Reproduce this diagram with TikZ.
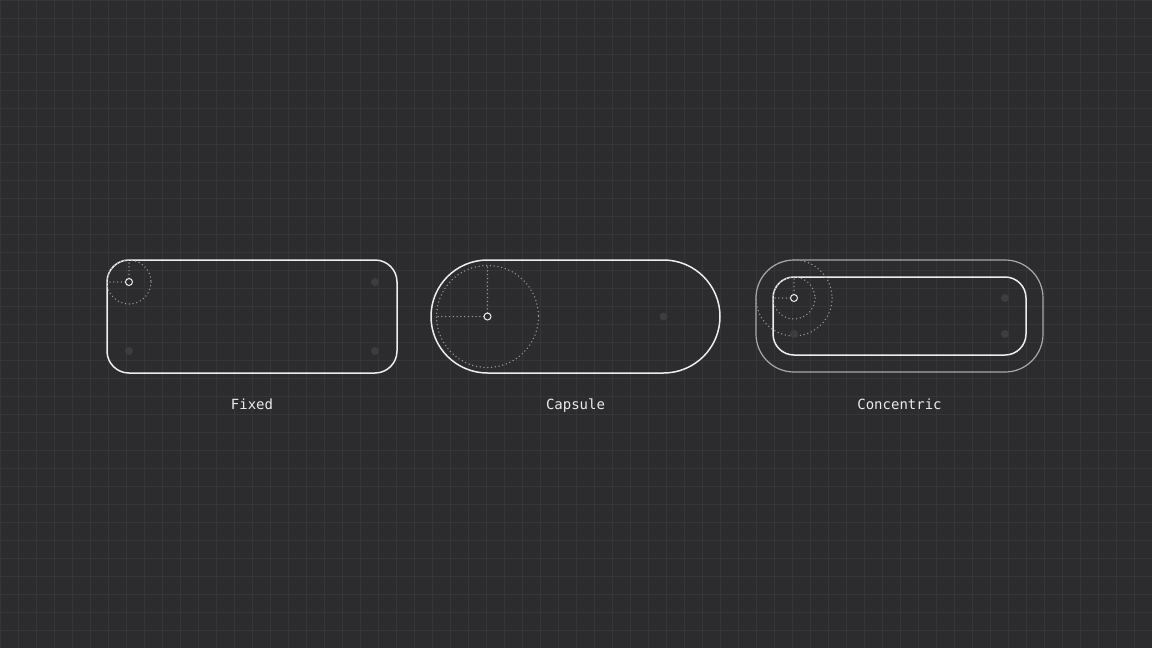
\documentclass[tikz,border=0pt]{standalone}
\usepackage{fontspec}
\setmonofont{DejaVu Sans Mono}
\definecolor{bg}{HTML}{2C2C2E}
\definecolor{gridc}{HTML}{363639}
\definecolor{outline}{HTML}{EDEDED}
\definecolor{outlinedim}{HTML}{A8A8A8}
\definecolor{dotc}{HTML}{9A9A9A}
\definecolor{faint}{HTML}{3D3D40}
\definecolor{labelc}{HTML}{EAEAEA}
\tikzset{
  shapeline/.style={draw=outline, line width=1.5pt},
  dimline/.style={draw=outlinedim, line width=1.2pt},
  dotline/.style={draw=dotc, line width=1.5pt, line cap=round, dash pattern=on 0pt off 3.8pt},
  centermark/.style={draw=outline, fill=bg, line width=1pt},
  faintdot/.style={fill=faint},
  lbl/.style={text=labelc, font=\ttfamily\fontsize{14}{16}\selectfont, inner sep=0pt, anchor=base}
}
\begin{document}
\begin{tikzpicture}[x=1pt,y=-1pt]
\fill[bg] (0,0) rectangle (1152,648);
\useasboundingbox (0,0) rectangle (1152,648);
\draw[gridc, line width=0.8pt] (0,0) grid[step=18pt] (1152,648);

% Fixed
\draw[shapeline, rounded corners=22pt] (107,260) rectangle (397,373);
\draw[dotline] (129,282) circle[radius=22];
\draw[dotline] (129,282) -- (129,260);
\draw[dotline] (129,282) -- (107,282);
\fill[faintdot] (129,351) circle[radius=4];
\fill[faintdot] (375,282) circle[radius=4];
\fill[faintdot] (375,351) circle[radius=4];
\draw[centermark] (129,282) circle[radius=3.5];
\node[lbl] (fixedlabel) at (252,409) {Fixed};

% Capsule
\draw[shapeline] (487.5,260) -- (663.5,260) arc[start angle=-90, end angle=90, radius=56.5] -- (487.5,373) arc[start angle=90, end angle=270, radius=56.5] -- cycle;
\draw[dotline] (487.5,316.5) circle[radius=51];
\draw[dotline] (487.5,316.5) -- (487.5,265.5);
\draw[dotline] (487.5,316.5) -- (436.5,316.5);
\fill[faintdot] (663.5,316.5) circle[radius=4];
\draw[centermark] (487.5,316.5) circle[radius=3.5];
\node[lbl] (capsulelabel) at (575.5,409) {Capsule};

% Concentric
\draw[dimline, rounded corners=38pt] (756,260) rectangle (1043,372);
\draw[shapeline, rounded corners=21pt] (773,277) rectangle (1026,355);
\draw[dotline] (794,298) circle[radius=38];
\draw[dotline] (794,298) circle[radius=21];
\draw[dotline] (794,298) -- (794,277);
\draw[dotline] (794,298) -- (773,298);
\fill[faintdot] (794,334) circle[radius=4];
\fill[faintdot] (1005,298) circle[radius=4];
\fill[faintdot] (1005,334) circle[radius=4];
\draw[centermark] (794,298) circle[radius=3.5];
\node[lbl] (concentriclabel) at (899.5,409) {Concentric};
\end{tikzpicture}
\end{document}
